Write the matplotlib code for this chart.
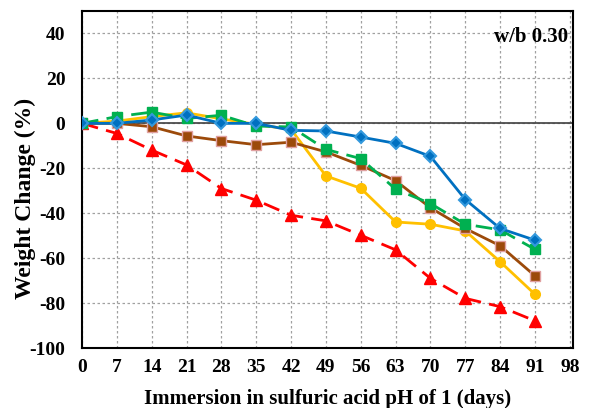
import matplotlib
matplotlib.use("Agg")
import matplotlib.pyplot as plt

days = [0, 7, 14, 21, 28, 35, 42, 49, 56, 63, 70, 77, 84, 91]
red = [0, -4.5, -11.9, -18.5, -29, -34.2, -40.9, -43.4, -49.8, -56.3, -69, -77.9, -81.6, -87.9]
yellow = [0, 1, 3, 4.7, 2, -0.5, -2.7, -23.4, -28.9, -43.9, -44.9, -47.9, -61.6, -76.1]
brown = [0, 0, -1.5, -5.6, -7.7, -9.5, -8.4, -12.7, -18.7, -25.5, -37.6, -46.8, -54.5, -67.9]
green = [0, 3, 5, 2.2, 3.6, -1.2, -1.6, -11.6, -15.7, -29.3, -35.7, -44.9, -47.4, -56.1]
blue = [0, 0, 1.5, 3.7, 0, 0, -3.1, -3.4, -6.1, -8.9, -14.7, -33.9, -46.8, -52]
xticks = list(range(0, 99, 7))
yticks = list(range(-100, 41, 20))

plt.rcParams['font.family'] = ['Liberation Serif', 'DejaVu Serif']
plt.rcParams['font.weight'] = 'bold'
plt.rcParams['axes.unicode_minus'] = False

fig = plt.figure(figsize=(6.06, 4.08), dpi=100)
ax = fig.add_axes([0.1353, 0.147, 0.81, 0.826])

ax.axhline(0, color='#404040', lw=1.2, zorder=1)
ax.plot(days, red, color='#FF0000', lw=2, dashes=(6, 3), marker='^', ms=8, zorder=3)
ax.plot(days, yellow, color='#FFC000', lw=2, marker='o', ms=7, zorder=4)
ax.plot(days, brown, color='#9C4A0A', lw=2, marker='s', ms=6.5, mfc='#9C4A0A', mec='#E0A0A0', mew=1, zorder=5)
ax.plot(days, green, color='#00B050', lw=2, dashes=(6, 3), marker='s', ms=7, zorder=6)
ax.plot(days, blue, color='#0070C0', lw=2, marker='D', ms=6, mfc='#0070C0', mec='#3399DD', mew=1.5, zorder=7)

ax.set_xlim(0, 98.6)
ax.set_ylim(-100, 50)
ax.set_xticks(xticks)
ax.set_yticks(yticks)
ax.grid(True, color='#A0A0A0', ls=(0, (2, 2)), lw=0.9)
ax.set_axisbelow(True)
for s in ax.spines.values():
    s.set_linewidth(1.5)
    s.set_color('black')
ax.tick_params(axis='x', length=0, labelsize=14, pad=8)
ax.tick_params(axis='y', length=0, labelsize=14, pad=12)
for lbl in ax.get_xticklabels() + ax.get_yticklabels():
    lbl.set_fontweight('bold')
ax.set_xlabel('Immersion in sulfuric acid pH of 1 (days)', fontsize=15, fontweight='bold', labelpad=9)
ax.set_ylabel('Weight Change (%)', fontsize=17, fontweight='bold')
ax.yaxis.set_label_coords(-0.094, 0.445)
ax.text(0.99, 0.923, 'w/b 0.30', transform=ax.transAxes, ha='right', va='center', fontsize=15, fontweight='bold')

fig.savefig('out.png', dpi=100)
